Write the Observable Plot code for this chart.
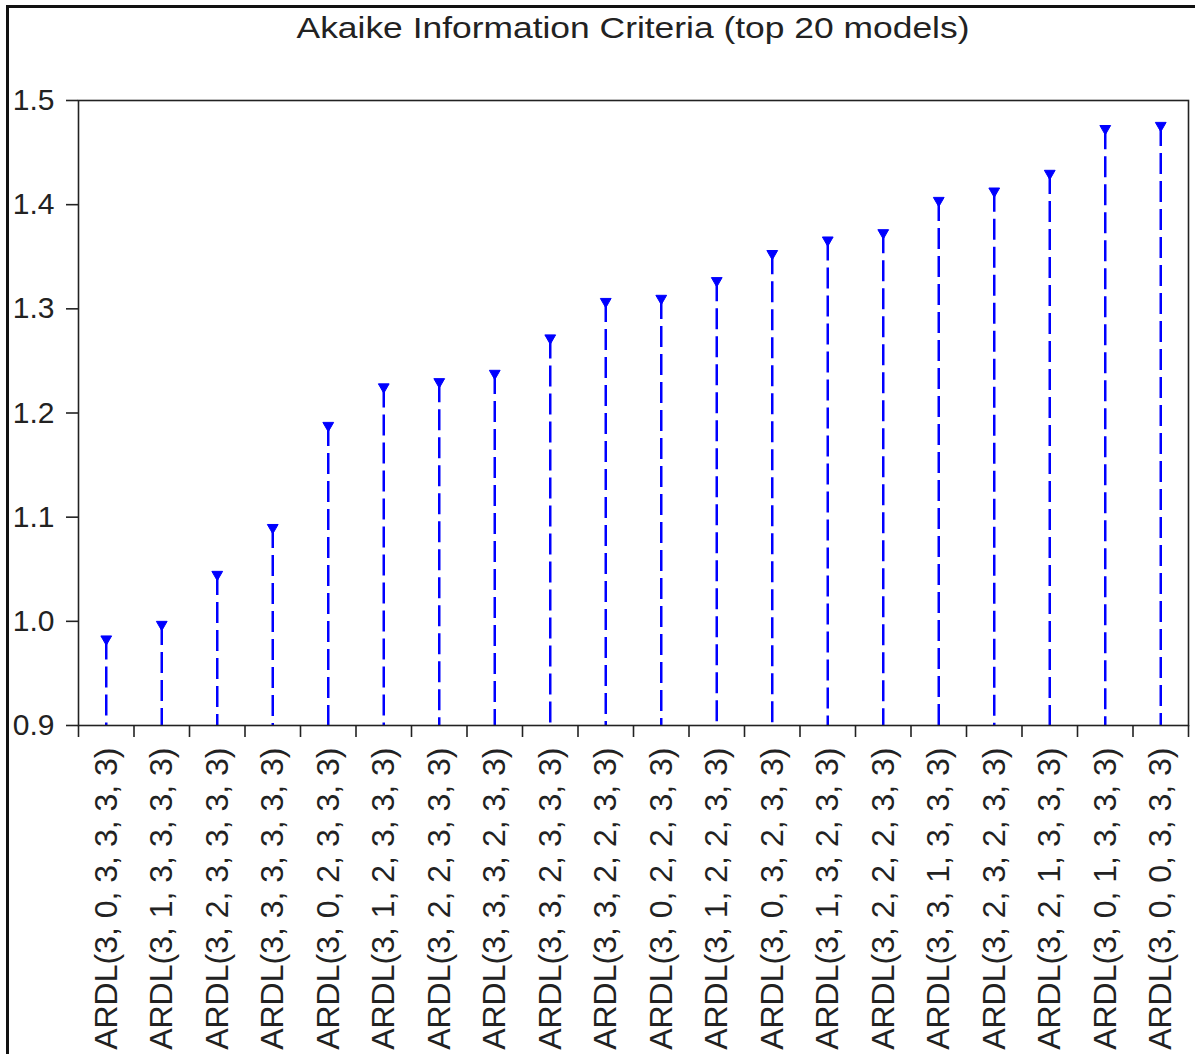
<!DOCTYPE html>
<html>
<head>
<meta charset="utf-8">
<script src="https://cdn.jsdelivr.net/npm/d3@7"></script>
<script src="https://cdn.jsdelivr.net/npm/@observablehq/plot@0.6"></script>
<style>
  html, body { margin: 0; padding: 0; background: #fff; overflow: hidden; }
  #page { position: relative; width: 1195px; height: 1054px; overflow: hidden; background: #fff; }
  #outer { position: absolute; left: 6px; top: 5px; width: 1300px; height: 1200px; border: 3px solid #111; box-sizing: border-box; }
  #title { position: absolute; left: 0; top: 11px; width: 1266px; text-align: center;
           font-family: "Liberation Sans", Arial, sans-serif; font-size: 30px; color: #222;
           transform: scaleX(1.18); transform-origin: 633px 0; white-space: nowrap; }
  #chart { position: absolute; left: 0; top: 60px; }
</style>
</head>
<body>
<div id="page">
  <div id="outer"></div>
  <div id="title">Akaike Information Criteria (top 20 models)</div>
  <div id="chart"></div>
</div>
<script>
const models = [
  "ARDL(3, 0, 3, 3, 3, 3)",
  "ARDL(3, 1, 3, 3, 3, 3)",
  "ARDL(3, 2, 3, 3, 3, 3)",
  "ARDL(3, 3, 3, 3, 3, 3)",
  "ARDL(3, 0, 2, 3, 3, 3)",
  "ARDL(3, 1, 2, 3, 3, 3)",
  "ARDL(3, 2, 2, 3, 3, 3)",
  "ARDL(3, 3, 3, 2, 3, 3)",
  "ARDL(3, 3, 2, 3, 3, 3)",
  "ARDL(3, 3, 2, 2, 3, 3)",
  "ARDL(3, 0, 2, 2, 3, 3)",
  "ARDL(3, 1, 2, 2, 3, 3)",
  "ARDL(3, 0, 3, 2, 3, 3)",
  "ARDL(3, 1, 3, 2, 3, 3)",
  "ARDL(3, 2, 2, 2, 3, 3)",
  "ARDL(3, 3, 1, 3, 3, 3)",
  "ARDL(3, 2, 3, 2, 3, 3)",
  "ARDL(3, 2, 1, 3, 3, 3)",
  "ARDL(3, 0, 1, 3, 3, 3)",
  "ARDL(3, 0, 0, 3, 3, 3)"
];
const aic = [0.983, 0.997, 1.045, 1.090, 1.188, 1.225, 1.230, 1.238, 1.272, 1.307,
             1.310, 1.327, 1.353, 1.366, 1.373, 1.404, 1.413, 1.430, 1.473, 1.476];
const yTicks = [0.9, 1.0, 1.1, 1.2, 1.3, 1.4, 1.5];
const baseline = 0.9;

const data = models.map((m, i) => ({pos: i + 0.5, model: m, aic: aic[i]}));
const boundaries = d3.range(0, models.length + 1);
const centers = data.map(d => d.pos);

const chart = Plot.plot({
  width: 1195,
  height: 994,
  marginTop: 40,
  marginBottom: 329,
  marginLeft: 78,
  marginRight: 7,
  x: {domain: [0, models.length], axis: null},
  y: {domain: [0.9, 1.5], axis: null},
  style: {fontFamily: "'Liberation Sans', Arial, sans-serif", color: "#222", background: "transparent"},
  marks: [
    Plot.ruleX(data, {x: "pos", y1: "aic", y2: () => baseline, stroke: "#0000ff", strokeWidth: 2.5, strokeDasharray: "21,7"}),
    Plot.dot(data, {x: "pos", y: "aic", symbol: "triangle", rotate: 180, r: 4, fill: "#0000ff", stroke: "#0000ff", strokeWidth: 1}),
    Plot.frame({stroke: "#222", strokeWidth: 1.6}),
    Plot.axisY({ticks: yTicks, tickFormat: d3.format(".1f"), tickSize: 12, tickPadding: 12, fontSize: 30, anchor: "left", label: null, strokeWidth: 1.6}),
    Plot.axisX({ticks: boundaries, tickFormat: () => "", tickSize: 12, label: null, strokeWidth: 1.6}),
    Plot.axisX({ticks: centers, tickFormat: d => models[Math.floor(d)], tickSize: 0, tickPadding: 22, tickRotate: -90, fontSize: 32, label: null})
  ]
});
document.getElementById("chart").appendChild(chart);
</script>
</body>
</html>
